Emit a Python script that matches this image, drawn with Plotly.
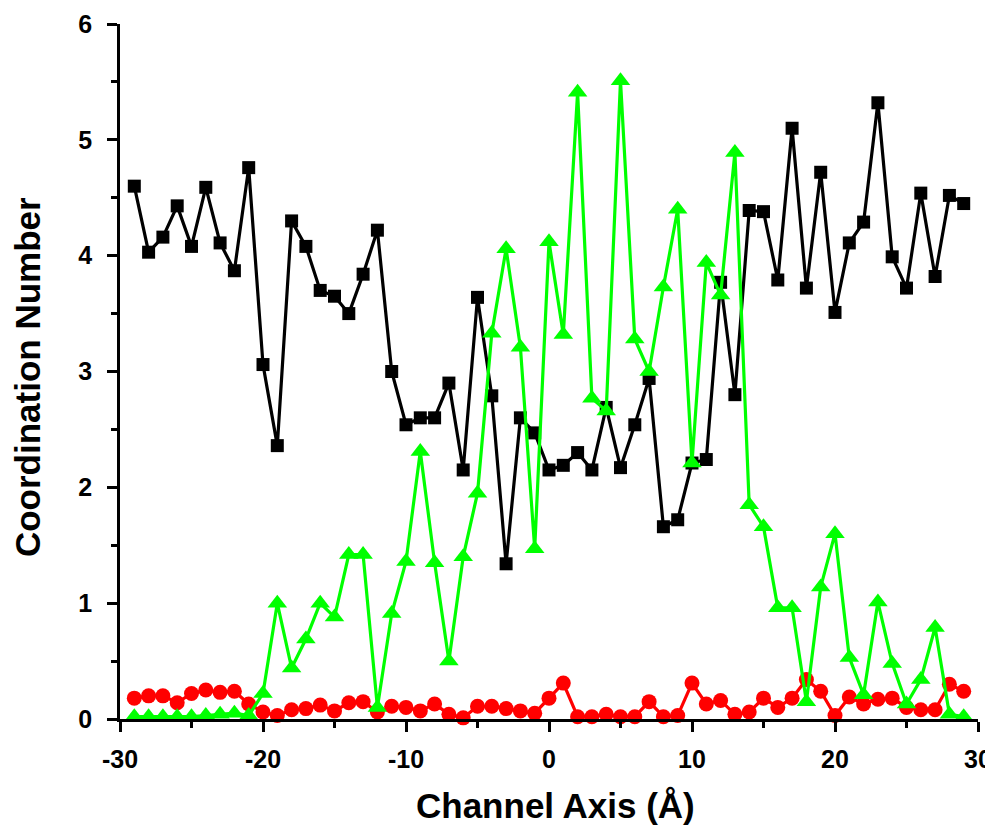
import plotly.graph_objects as go

x_vals = list(range(-29, 30))

black_vals = [4.60, 4.03, 4.16, 4.43, 4.08, 4.59, 4.11, 3.87, 4.76, 3.06,
              2.36, 4.30, 4.08, 3.70, 3.65, 3.50, 3.84, 4.22, 3.00, 2.54,
              2.60, 2.60, 2.90, 2.15, 3.64, 2.79, 1.34, 2.60, 2.47, 2.15,
              2.19, 2.30, 2.15, 2.69, 2.17, 2.54, 2.94, 1.66, 1.72, 2.21,
              2.24, 3.77, 2.80, 4.39, 4.38, 3.79, 5.10, 3.72, 4.72, 3.51,
              4.11, 4.29, 5.32, 3.99, 3.72, 4.54, 3.82, 4.52, 4.45]

red_vals = [0.18, 0.20, 0.20, 0.14, 0.22, 0.25, 0.23, 0.24, 0.13, 0.06,
            0.03, 0.08, 0.09, 0.12, 0.07, 0.14, 0.15, 0.06, 0.11, 0.10,
            0.07, 0.13, 0.04, 0.01, 0.11, 0.11, 0.09, 0.07, 0.05, 0.18,
            0.31, 0.02, 0.02, 0.04, 0.02, 0.02, 0.15, 0.02, 0.03, 0.31,
            0.13, 0.16, 0.04, 0.06, 0.18, 0.10, 0.18, 0.34, 0.24, 0.03,
            0.19, 0.13, 0.17, 0.18, 0.10, 0.08, 0.08, 0.30, 0.24]

green_vals = [0.02, 0.02, 0.02, 0.02, 0.02, 0.03, 0.04, 0.05, 0.03, 0.22,
              1.00, 0.44, 0.69, 1.00, 0.88, 1.42, 1.42, 0.10, 0.91, 1.36,
              2.31, 1.35, 0.50, 1.40, 1.95, 3.33, 4.06, 3.21, 1.47, 4.12,
              3.32, 5.41, 2.77, 2.66, 5.51, 3.28, 3.00, 3.73, 4.40, 2.21,
              3.94, 3.66, 4.89, 1.85, 1.66, 0.96, 0.96, 0.15, 1.14, 1.60,
              0.53, 0.21, 1.01, 0.48, 0.13, 0.34, 0.79, 0.04, 0.02]

x_title = "Channel Axis (Å)"
y_title = "Coordination Number"

fig = go.Figure()
fig.add_trace(go.Scatter(x=x_vals, y=black_vals, mode="lines+markers",
                         line=dict(color="#000000", width=3.2),
                         marker=dict(symbol="square", size=13, color="#000000"),
                         cliponaxis=False, showlegend=False))
fig.add_trace(go.Scatter(x=x_vals, y=red_vals, mode="lines+markers",
                         line=dict(color="#FF0000", width=3.2),
                         marker=dict(symbol="circle", size=15, color="#FF0000"),
                         cliponaxis=False, showlegend=False))
fig.add_trace(go.Scatter(x=x_vals, y=green_vals, mode="lines+markers",
                         line=dict(color="#00FF00", width=3.2),
                         marker=dict(symbol="triangle-up", size=17, color="#00FF00"),
                         cliponaxis=False, showlegend=False))

font_fam = "Liberation Sans, Arial, sans-serif"

fig.update_layout(
    width=985, height=819,
    margin=dict(l=112, r=15, t=16, b=108),
    paper_bgcolor="white", plot_bgcolor="white",
    font=dict(family=font_fam, color="black"),
    xaxis=dict(range=[-30, 30], showgrid=False, zeroline=False, automargin=False,
               showline=True, linecolor="black", linewidth=2.5,
               ticks="outside", ticklen=10, tickwidth=2.5, tickcolor="black",
               tickvals=[-30, -20, -10, 0, 10, 20, 30],
               ticktext=["<b>-30</b>", "<b>-20</b>", "<b>-10</b>", "<b>0</b>",
                         "<b>10</b>", "<b>20</b>", "<b>30</b>"],
               tickfont=dict(size=25, family=font_fam),
               minor=dict(dtick=5, ticks="outside", ticklen=6, tickwidth=2.5,
                          tickcolor="black", showgrid=False),
               ticklabeloverflow="allow",
               ticklabelstandoff=6),
    yaxis=dict(range=[0, 6], showgrid=False, zeroline=False, automargin=False,
               showline=True, linecolor="black", linewidth=2.5,
               ticks="outside", ticklen=10, tickwidth=2.5, tickcolor="black",
               tickvals=[0, 1, 2, 3, 4, 5, 6],
               ticktext=["<b>0</b>", "<b>1</b>", "<b>2</b>", "<b>3</b>",
                         "<b>4</b>", "<b>5</b>", "<b>6</b>"],
               tickfont=dict(size=25, family=font_fam),
               minor=dict(dtick=0.5, ticks="outside", ticklen=6, tickwidth=2.5,
                          tickcolor="black", showgrid=False),
               ticklabeloverflow="allow",
               ticklabelstandoff=10),
    annotations=[
        dict(text="<b>" + x_title + "</b>", xref="paper", yref="paper",
             x=0.508, y=-0.124, xanchor="center", yanchor="middle",
             showarrow=False, font=dict(size=35, family=font_fam)),
        dict(text="<b>" + y_title + "</b>", xref="paper", yref="paper",
             x=-0.1084, y=0.492, xanchor="center", yanchor="middle",
             textangle=-90, showarrow=False, font=dict(size=35, family=font_fam)),
    ],
)

fig.write_html("out.html")
